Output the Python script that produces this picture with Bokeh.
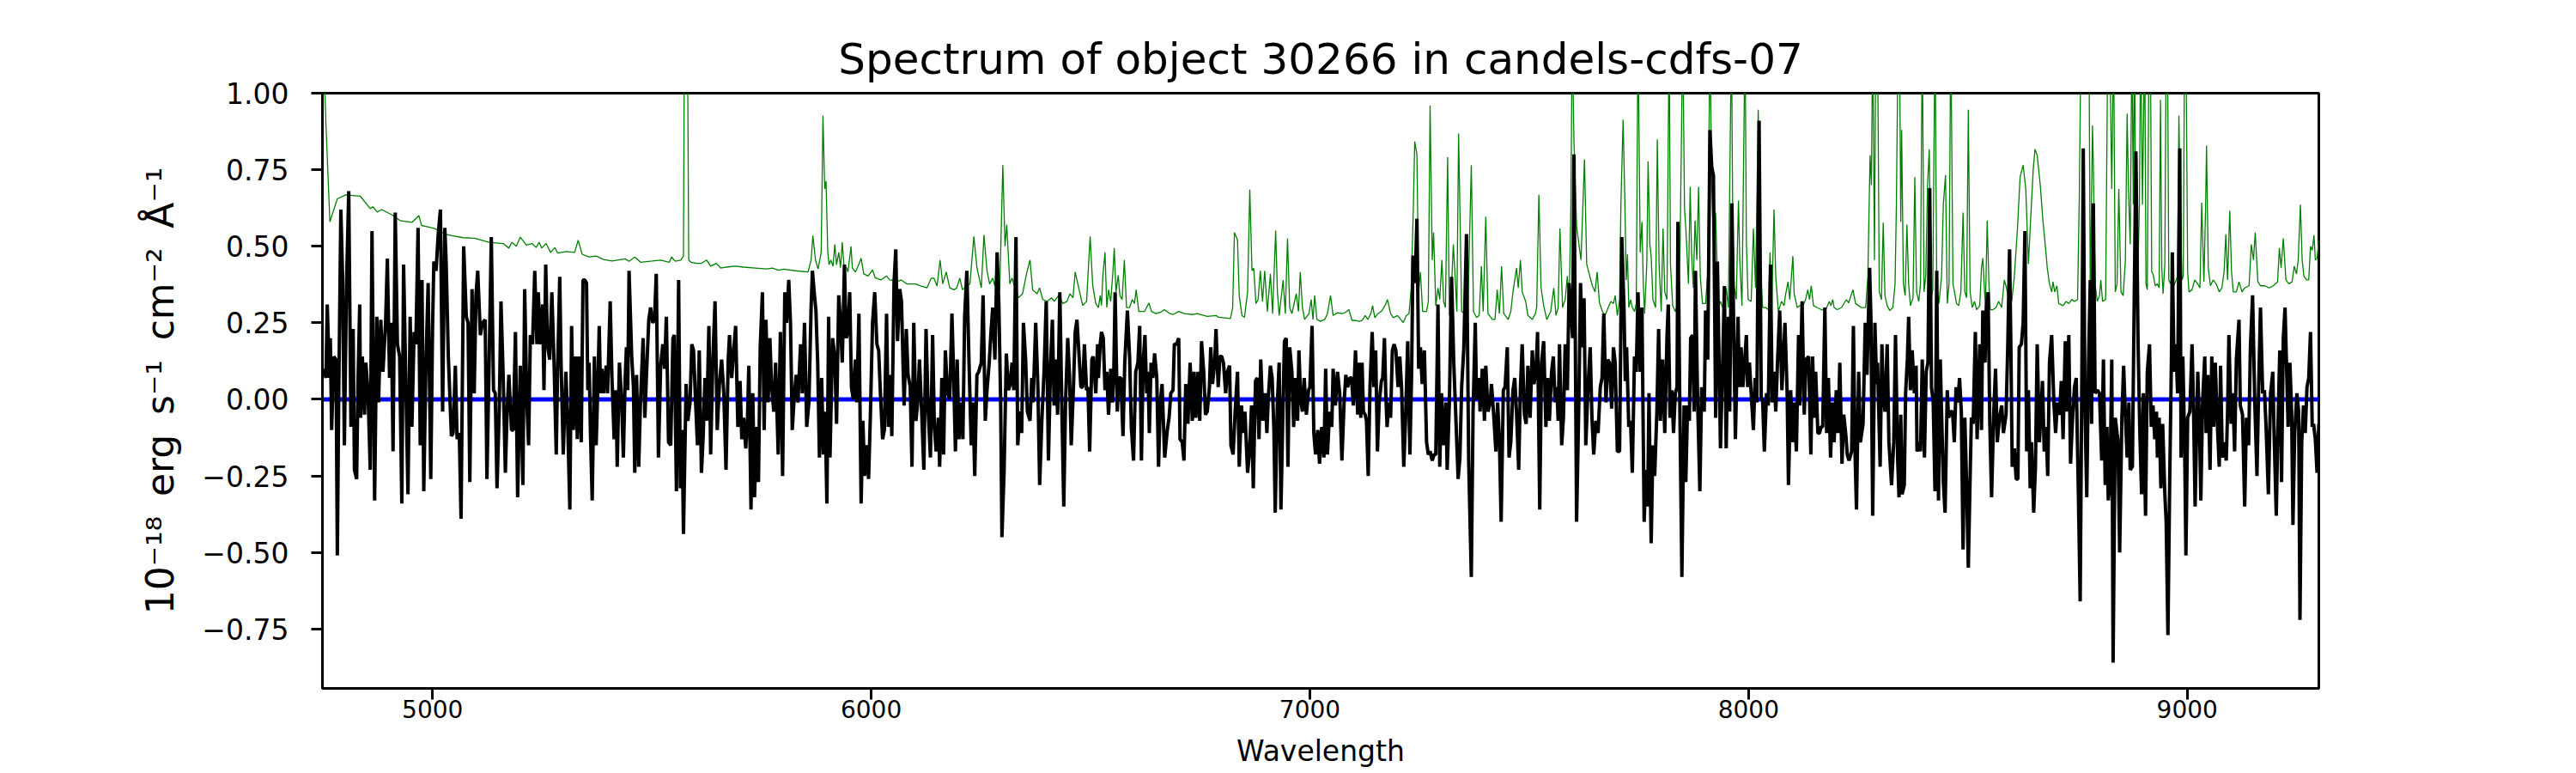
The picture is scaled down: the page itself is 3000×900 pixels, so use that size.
from bokeh.plotting import figure
from bokeh.models import Range1d, FixedTicker, ColumnDataSource
from bokeh.embed import file_html
from bokeh.resources import INLINE

# ---------------- data ----------------
title_text = "Spectrum of object 30266 in candels-cdfs-07"
x_label = "Wavelength"
y_label = "10\u207b\u00b9\u2078\u2009 erg\u2009 s\u207b\u00b9\u2009 cm\u207b\u00b2\u2009 \u00c5\u207b\u00b9"

x_limits = [4749, 9300]
y_limits = [-0.944, 1.0]
x_ticks = [5000, 6000, 7000, 8000, 9000]
x_tick_labels = ["5000", "6000", "7000", "8000", "9000"]
y_ticks = [-0.75, -0.5, -0.25, 0.0, 0.25, 0.5, 0.75, 1.0]
y_tick_labels = ["\u22120.75", "\u22120.50", "\u22120.25", "0.00", "0.25", "0.50", "0.75", "1.00"]

# continuum model (flat at zero)
model_wave = [4749, 9300]
model_flux = [0.0, 0.0]

# object spectrum: (wavelength, flux)
object_spectrum = [
    (4752, 0.10), (4757, 0.07), (4760, 0.31), (4765, 0.07), (4767, 0.20), (4770, -0.10), (4775, 0.14), (4780, 0.13),
    (4783, -0.51), (4786, -0.01), (4791, 0.62), (4795, 0.40), (4799, -0.15), (4804, 0.38), (4809, 0.68), (4814, -0.09),
    (4819, 0.23), (4822, -0.23), (4827, -0.26), (4830, 0.05), (4834, 0.31), (4836, -0.06), (4840, 0.14), (4845, -0.05),
    (4848, 0.12), (4853, 0.02), (4858, -0.23), (4862, 0.55), (4868, -0.33), (4873, 0.27), (4877, -0.01), (4882, 0.26),
    (4887, 0.09), (4893, 0.25), (4897, 0.46), (4902, 0.07), (4906, 0.25), (4910, -0.17), (4915, 0.61), (4920, 0.18),
    (4925, 0.14), (4930, -0.34), (4934, 0.44), (4940, -0.01), (4944, -0.31), (4949, 0.27), (4953, -0.09), (4958, 0.22),
    (4962, 0.18), (4967, 0.56), (4972, -0.15), (4976, 0.39), (4980, -0.30), (4985, 0.12), (4990, 0.38), (4996, -0.26),
    (5000, 0.23), (5003, 0.45), (5008, 0.42), (5013, 0.54), (5018, 0.62), (5023, -0.04), (5028, 0.56), (5031, 0.45),
    (5036, 0.14), (5043, -0.12), (5047, -0.11), (5052, 0.11), (5056, -0.13), (5061, -0.11), (5065, -0.39), (5071, 0.50),
    (5077, 0.27), (5081, 0.25), (5085, -0.27), (5090, 0.36), (5095, 0.02), (5099, 0.34), (5103, 0.42), (5109, 0.21),
    (5114, 0.25), (5120, 0.26), (5124, -0.26), (5129, 0.12), (5134, 0.53), (5139, 0.03), (5143, 0.02), (5147, -0.29),
    (5152, -0.04), (5156, 0.32), (5161, 0.08), (5166, -0.24), (5170, -0.04), (5174, 0.08), (5180, -0.10), (5184, -0.10),
    (5189, 0.22), (5194, -0.32), (5200, 0.11), (5206, -0.28), (5210, 0.36), (5215, -0.01), (5219, -0.15), (5223, 0.21),
    (5228, 0.18), (5233, 0.42), (5238, 0.18), (5241, 0.35), (5246, 0.18), (5251, 0.31), (5254, 0.03), (5258, 0.44),
    (5262, 0.18), (5267, 0.13), (5272, 0.35), (5277, 0.12), (5282, -0.18), (5285, 0.09), (5290, 0.40), (5293, 0.12),
    (5298, -0.18), (5304, 0.09), (5308, -0.07), (5313, -0.36), (5317, 0.24), (5321, -0.10), (5326, 0.14), (5330, -0.13),
    (5334, 0.14), (5339, -0.14), (5343, 0.39), (5347, 0.39), (5351, 0.38), (5354, 0.03), (5357, 0.12), (5360, -0.11),
    (5364, -0.33), (5369, 0.14), (5373, -0.15), (5377, 0.05), (5380, 0.24), (5383, 0.02), (5386, 0.10), (5390, 0.02),
    (5393, 0.07), (5396, 0.11), (5399, 0.02), (5405, 0.32), (5409, 0.07), (5414, -0.13), (5418, 0.03), (5421, -0.22),
    (5426, 0.12), (5431, 0.00), (5435, -0.19), (5439, 0.06), (5442, 0.17), (5445, 0.03), (5448, 0.42), (5454, 0.14),
    (5458, 0.04), (5461, -0.24), (5465, 0.08), (5470, -0.22), (5474, -0.01), (5480, 0.20), (5484, -0.06), (5488, 0.09),
    (5493, 0.26), (5497, 0.30), (5502, 0.25), (5506, 0.26), (5510, 0.41), (5515, -0.19), (5520, 0.11), (5525, 0.18),
    (5529, 0.10), (5533, 0.27), (5538, -0.14), (5543, -0.15), (5548, 0.20), (5551, 0.21), (5556, -0.30), (5561, 0.39),
    (5565, -0.29), (5569, -0.10), (5572, -0.44), (5578, 0.05), (5582, -0.07), (5587, -0.01), (5591, 0.18), (5595, 0.16),
    (5600, -0.02), (5604, -0.15), (5608, 0.16), (5613, -0.24), (5617, -0.12), (5621, 0.07), (5625, -0.07), (5630, 0.24),
    (5634, -0.18), (5639, 0.13), (5644, 0.32), (5649, -0.10), (5654, 0.05), (5659, 0.13), (5664, 0.02), (5669, -0.23),
    (5674, 0.13), (5677, 0.21), (5682, 0.07), (5687, 0.17), (5691, 0.24), (5696, -0.09), (5701, 0.06), (5705, -0.13),
    (5709, -0.06), (5714, -0.16), (5718, -0.06), (5721, 0.11), (5726, -0.36), (5730, 0.02), (5734, -0.32), (5739, -0.09),
    (5743, -0.27), (5747, 0.17), (5752, 0.35), (5756, -0.10), (5760, 0.26), (5765, -0.01), (5769, 0.20), (5773, 0.04),
    (5778, -0.04), (5782, 0.12), (5788, -0.18), (5793, 0.22), (5798, -0.25), (5803, 0.35), (5807, 0.25), (5812, 0.39),
    (5816, 0.25), (5820, -0.10), (5825, 0.02), (5829, 0.08), (5833, -0.01), (5839, 0.18), (5843, 0.02), (5848, 0.25),
    (5853, -0.09), (5858, -0.01), (5863, 0.30), (5866, 0.42), (5870, 0.35), (5874, 0.29), (5878, 0.12), (5882, -0.19),
    (5887, 0.07), (5891, -0.18), (5895, -0.04), (5899, -0.34), (5903, 0.27), (5906, -0.19), (5912, 0.20), (5917, 0.14),
    (5921, -0.08), (5926, 0.34), (5930, 0.25), (5934, 0.12), (5939, 0.44), (5943, 0.20), (5947, 0.22), (5951, 0.35),
    (5955, 0.04), (5959, 0.00), (5964, 0.13), (5967, -0.01), (5972, 0.28), (5977, -0.34), (5981, -0.07), (5985, -0.25),
    (5990, -0.15), (5994, -0.26), (5998, -0.06), (6003, 0.25), (6008, 0.35), (6013, 0.18), (6017, 0.16), (6021, 0.02),
    (6026, -0.13), (6030, -0.10), (6035, 0.28), (6039, -0.09), (6043, 0.08), (6047, -0.12), (6052, 0.38), (6056, 0.49),
    (6060, 0.19), (6065, 0.36), (6069, 0.32), (6075, -0.02), (6080, 0.23), (6084, 0.08), (6089, 0.04), (6093, -0.22),
    (6097, 0.25), (6102, -0.07), (6106, -0.01), (6110, 0.13), (6115, -0.04), (6120, -0.23), (6125, 0.23), (6130, -0.04),
    (6135, -0.19), (6140, 0.21), (6144, -0.09), (6148, -0.17), (6153, -0.06), (6156, -0.22), (6161, 0.07), (6165, -0.18),
    (6169, 0.16), (6174, 0.02), (6179, 0.00), (6184, 0.28), (6187, 0.13), (6192, -0.17), (6196, 0.13), (6200, -0.13),
    (6205, -0.01), (6209, -0.13), (6213, 0.27), (6218, 0.42), (6223, 0.12), (6228, -0.15), (6232, -0.01), (6236, -0.25),
    (6241, 0.08), (6245, 0.09), (6251, 0.12), (6255, 0.34), (6260, -0.07), (6264, 0.03), (6269, 0.12), (6273, 0.22),
    (6277, 0.30), (6282, 0.13), (6287, 0.48), (6291, 0.31), (6295, 0.00), (6298, -0.45), (6303, -0.23), (6308, 0.15),
    (6313, 0.03), (6317, 0.05), (6321, 0.12), (6325, 0.03), (6330, 0.53), (6334, -0.15), (6339, -0.04), (6343, -0.11),
    (6347, 0.25), (6352, 0.13), (6356, -0.04), (6362, -0.07), (6366, 0.07), (6369, -0.01), (6375, 0.25), (6380, 0.04),
    (6384, -0.28), (6389, -0.07), (6394, 0.09), (6399, 0.32), (6404, -0.20), (6409, 0.12), (6413, 0.26), (6417, -0.02),
    (6420, 0.13), (6425, -0.05), (6430, 0.35), (6435, -0.06), (6439, -0.35), (6443, -0.01), (6448, 0.20), (6452, 0.08),
    (6456, -0.15), (6461, 0.04), (6465, 0.22), (6469, 0.26), (6474, 0.14), (6478, 0.04), (6482, 0.04), (6486, 0.18),
    (6491, 0.03), (6494, 0.04), (6498, -0.17), (6503, 0.13), (6506, 0.14), (6512, 0.02), (6516, 0.18), (6518, 0.07),
    (6522, 0.18), (6525, 0.22), (6529, 0.20), (6533, 0.03), (6537, 0.09), (6541, -0.05), (6546, 0.10), (6550, -0.01),
    (6553, 0.09), (6556, 0.35), (6561, -0.04), (6564, 0.07), (6569, 0.07), (6574, -0.12), (6578, 0.12), (6584, 0.29),
    (6589, 0.14), (6593, -0.09), (6598, -0.20), (6603, 0.09), (6608, 0.12), (6612, 0.24), (6616, -0.20), (6620, 0.12),
    (6624, 0.21), (6628, 0.02), (6631, 0.09), (6634, -0.11), (6638, 0.12), (6642, 0.07), (6646, 0.15), (6651, 0.07),
    (6655, -0.22), (6659, -0.01), (6663, 0.05), (6669, -0.19), (6675, -0.10), (6679, -0.06), (6683, 0.02), (6688, 0.03),
    (6691, 0.18), (6696, 0.18), (6701, 0.20), (6704, -0.13), (6709, -0.14), (6713, -0.20), (6717, 0.05), (6722, -0.08),
    (6727, 0.12), (6732, -0.07), (6736, 0.09), (6740, -0.06), (6745, 0.09), (6749, -0.07), (6753, 0.19), (6758, 0.09),
    (6762, -0.05), (6766, -0.04), (6771, 0.04), (6774, 0.17), (6778, 0.05), (6783, 0.12), (6786, 0.23), (6791, 0.04),
    (6795, 0.14), (6799, 0.14), (6803, 0.12), (6808, 0.02), (6812, 0.09), (6817, 0.11), (6820, -0.15), (6825, -0.18),
    (6830, -0.03), (6835, 0.09), (6839, -0.22), (6844, -0.02), (6848, -0.11), (6852, -0.04), (6858, -0.24), (6862, -0.18),
    (6867, -0.02), (6871, -0.29), (6876, 0.06), (6880, 0.07), (6884, -0.13), (6888, 0.13), (6893, -0.07), (6898, 0.02),
    (6902, -0.11), (6905, 0.00), (6910, 0.11), (6914, 0.07), (6918, -0.10), (6921, -0.37), (6926, -0.01), (6930, 0.12),
    (6934, -0.36), (6939, -0.01), (6942, 0.19), (6946, 0.20), (6950, -0.22), (6954, 0.17), (6959, 0.09), (6963, -0.09),
    (6967, 0.07), (6972, -0.07), (6975, 0.16), (6979, 0.00), (6983, -0.04), (6987, 0.07), (6992, -0.05), (6997, 0.03),
    (7000, 0.04), (7005, 0.24), (7009, -0.11), (7013, -0.18), (7018, -0.10), (7022, -0.21), (7027, -0.09), (7032, -0.19),
    (7036, 0.10), (7040, -0.18), (7045, -0.04), (7050, -0.09), (7053, 0.10), (7058, -0.02), (7063, 0.09), (7068, 0.02),
    (7073, -0.20), (7078, -0.01), (7082, 0.08), (7086, 0.04), (7091, 0.07), (7095, 0.07), (7099, -0.02), (7104, 0.16),
    (7109, -0.05), (7112, 0.12), (7116, -0.06), (7119, 0.12), (7122, -0.04), (7126, -0.05), (7129, -0.07), (7133, -0.25),
    (7137, 0.04), (7142, 0.22), (7146, 0.04), (7150, 0.16), (7154, -0.17), (7158, -0.01), (7163, 0.06), (7166, 0.07),
    (7170, 0.20), (7173, 0.02), (7176, -0.09), (7180, -0.01), (7184, -0.06), (7188, 0.16), (7192, 0.18), (7196, 0.16),
    (7201, 0.04), (7205, 0.14), (7209, 0.04), (7214, -0.22), (7218, -0.07), (7223, 0.19), (7228, -0.18), (7232, 0.09),
    (7235, 0.47), (7240, 0.38), (7244, 0.59), (7248, 0.10), (7252, 0.17), (7256, 0.05), (7261, 0.16), (7266, -0.14),
    (7270, -0.18), (7274, -0.17), (7279, -0.20), (7283, -0.18), (7287, -0.18), (7292, 0.31), (7296, -0.22), (7300, 0.02),
    (7305, -0.15), (7310, -0.01), (7313, -0.23), (7318, -0.01), (7323, 0.40), (7328, 0.12), (7333, -0.07), (7338, -0.26),
    (7342, -0.19), (7346, 0.04), (7351, 0.17), (7357, 0.54), (7362, -0.20), (7368, -0.58), (7372, -0.04), (7377, 0.25),
    (7380, 0.00), (7385, 0.07), (7388, -0.04), (7393, 0.10), (7398, -0.07), (7401, 0.11), (7406, -0.04), (7411, -0.01),
    (7414, 0.05), (7419, -0.05), (7424, -0.17), (7428, -0.01), (7432, -0.13), (7436, -0.40), (7441, 0.03), (7445, 0.04),
    (7450, 0.17), (7454, -0.19), (7458, -0.14), (7463, 0.03), (7467, 0.07), (7471, -0.04), (7476, -0.23), (7480, 0.04),
    (7484, 0.18), (7489, -0.05), (7493, -0.08), (7497, 0.11), (7502, -0.06), (7507, 0.16), (7511, 0.05), (7516, 0.11),
    (7519, 0.22), (7524, -0.36), (7528, 0.12), (7533, 0.19), (7538, -0.09), (7542, 0.07), (7546, -0.07), (7551, 0.09),
    (7555, 0.14), (7559, -0.01), (7563, 0.04), (7566, -0.07), (7569, 0.18), (7574, -0.15), (7578, -0.06), (7582, 0.18),
    (7587, 0.03), (7591, 0.38), (7594, 0.31), (7599, 0.20), (7602, 0.80), (7605, 0.21), (7608, -0.40), (7613, -0.02),
    (7617, 0.38), (7621, 0.17), (7625, 0.33), (7629, -0.15), (7634, 0.04), (7639, 0.17), (7643, -0.06), (7647, -0.18),
    (7652, -0.07), (7657, -0.11), (7662, 0.04), (7666, 0.07), (7670, 0.28), (7675, -0.01), (7679, 0.13), (7683, 0.12),
    (7688, -0.03), (7692, 0.17), (7696, 0.12), (7701, -0.17), (7706, -0.17), (7711, 0.53), (7716, 0.30), (7719, 0.06),
    (7722, 0.17), (7727, -0.09), (7731, -0.07), (7735, -0.24), (7740, 0.14), (7744, 0.09), (7748, 0.35), (7753, 0.09),
    (7757, 0.30), (7762, -0.40), (7766, -0.23), (7770, -0.35), (7773, 0.02), (7778, -0.47), (7782, -0.15), (7786, -0.25),
    (7791, -0.04), (7795, 0.23), (7799, -0.07), (7804, 0.13), (7809, -0.11), (7814, 0.20), (7817, 0.31), (7821, -0.06),
    (7825, 0.03), (7829, -0.11), (7833, 0.02), (7837, 0.04), (7839, 0.58), (7843, 0.02), (7848, -0.58), (7853, -0.02),
    (7857, -0.27), (7861, -0.02), (7865, -0.07), (7868, 0.20), (7872, 0.21), (7876, -0.04), (7879, 0.42), (7884, -0.01),
    (7889, -0.30), (7893, 0.04), (7899, -0.04), (7902, 0.29), (7907, 0.13), (7912, 0.88), (7916, 0.76), (7920, 0.73),
    (7925, -0.06), (7929, 0.45), (7933, 0.11), (7936, -0.16), (7941, 0.12), (7945, 0.37), (7949, -0.16), (7954, 0.27),
    (7957, -0.04), (7962, 0.64), (7966, 0.25), (7970, -0.13), (7976, 0.27), (7979, 0.04), (7983, 0.17), (7987, 0.04),
    (7991, 0.12), (7995, 0.21), (7998, 0.04), (8002, 0.12), (8006, 0.02), (8011, -0.10), (8015, 0.07), (8019, -0.01),
    (8024, 0.91), (8029, 0.00), (8032, 0.00), (8036, -0.17), (8041, 0.02), (8045, -0.02), (8050, 0.44), (8054, -0.01),
    (8058, 0.09), (8062, -0.04), (8066, 0.12), (8071, 0.29), (8076, 0.03), (8079, 0.12), (8083, 0.25), (8088, 0.02),
    (8091, -0.28), (8096, 0.03), (8100, -0.14), (8104, -0.01), (8109, -0.17), (8114, 0.21), (8117, -0.02), (8122, 0.32),
    (8127, -0.05), (8131, 0.13), (8137, 0.14), (8142, -0.18), (8146, 0.14), (8150, -0.06), (8153, 0.09), (8158, -0.11),
    (8162, -0.11), (8165, -0.09), (8169, -0.09), (8174, 0.30), (8178, -0.11), (8182, 0.07), (8187, -0.19), (8191, -0.01),
    (8195, -0.14), (8200, 0.03), (8204, -0.11), (8208, 0.12), (8213, -0.21), (8217, -0.05), (8222, -0.12), (8225, -0.18),
    (8229, -0.20), (8235, -0.17), (8239, 0.24), (8243, -0.19), (8246, -0.36), (8251, 0.09), (8255, -0.14), (8261, -0.08),
    (8266, 0.25), (8270, 0.08), (8276, 0.43), (8279, 0.26), (8283, -0.38), (8288, 0.25), (8292, 0.05), (8294, 0.12),
    (8300, -0.22), (8304, 0.18), (8307, 0.02), (8311, -0.04), (8316, 0.18), (8320, -0.14), (8326, -0.28), (8331, -0.14),
    (8335, 0.21), (8340, -0.20), (8343, -0.32), (8347, -0.05), (8350, -0.31), (8355, -0.28), (8358, 0.02), (8362, 0.13),
    (8365, 0.27), (8369, 0.03), (8373, 0.16), (8378, 0.02), (8382, 0.11), (8384, -0.17), (8390, -0.14), (8392, -0.17),
    (8396, 0.13), (8401, -0.19), (8405, 0.09), (8409, 0.12), (8413, 0.69), (8417, 0.04), (8421, -0.01), (8425, -0.30),
    (8429, 0.42), (8433, -0.33), (8437, 0.13), (8441, -0.10), (8444, -0.27), (8448, -0.37), (8453, 0.03), (8456, -0.06),
    (8461, -0.04), (8465, -0.04), (8469, -0.14), (8473, 0.04), (8477, -0.01), (8481, 0.07), (8485, -0.04), (8489, -0.49),
    (8493, -0.06), (8497, -0.27), (8501, -0.55), (8505, -0.26), (8508, -0.06), (8512, -0.08), (8517, 0.22), (8521, -0.13),
    (8527, 0.18), (8531, -0.10), (8534, 0.29), (8539, 0.12), (8542, 0.30), (8546, 0.35), (8550, -0.08), (8554, -0.32),
    (8559, -0.04), (8563, 0.10), (8567, -0.14), (8572, -0.06), (8577, -0.02), (8581, -0.11), (8587, -0.05), (8591, 0.18),
    (8595, 0.49), (8598, 0.17), (8601, -0.22), (8606, -0.16), (8610, -0.26), (8614, -0.26), (8617, 0.17), (8622, 0.18),
    (8626, 0.25), (8630, 0.55), (8634, -0.17), (8638, 0.03), (8642, -0.29), (8645, -0.14), (8650, -0.37), (8654, -0.22),
    (8658, 0.18), (8663, -0.14), (8666, -0.06), (8670, 0.06), (8674, -0.17), (8678, -0.09), (8682, -0.25), (8686, 0.12),
    (8691, 0.21), (8696, -0.01), (8700, -0.11), (8704, -0.01), (8709, -0.05), (8713, 0.06), (8717, -0.13), (8722, 0.19),
    (8726, -0.04), (8730, 0.21), (8734, -0.21), (8739, -0.05), (8743, 0.04), (8747, 0.07), (8752, -0.32), (8756, -0.66),
    (8760, 0.12), (8763, 0.82), (8767, -0.04), (8771, -0.32), (8775, 0.12), (8779, 0.39), (8782, -0.08), (8786, 0.64),
    (8790, 0.02), (8795, 0.03), (8800, 0.02), (8805, -0.20), (8809, 0.13), (8813, -0.28), (8817, -0.09), (8820, -0.33),
    (8824, -0.27), (8828, 0.13), (8831, -0.86), (8836, -0.06), (8840, -0.11), (8842, -0.13), (8846, -0.50), (8851, -0.06),
    (8855, 0.11), (8859, -0.05), (8863, -0.19), (8867, -0.01), (8870, -0.23), (8875, -0.22), (8879, 0.30), (8883, 0.81),
    (8888, 0.18), (8892, -0.11), (8896, -0.31), (8900, 0.02), (8905, -0.38), (8909, 0.09), (8914, 0.18), (8918, -0.09),
    (8922, -0.02), (8926, -0.13), (8930, -0.04), (8932, -0.19), (8936, -0.06), (8940, -0.29), (8944, -0.08), (8949, -0.31),
    (8952, -0.40), (8956, -0.77), (8960, -0.27), (8964, 0.13), (8966, 0.48), (8970, 0.09), (8974, 0.18), (8978, 0.02),
    (8983, 0.82), (8986, -0.19), (8990, 0.14), (8994, -0.14), (8997, -0.51), (9001, -0.06), (9006, -0.04), (9011, 0.18),
    (9014, 0.00), (9018, -0.35), (9024, 0.09), (9028, -0.08), (9031, -0.33), (9035, -0.01), (9040, 0.14), (9043, -0.11),
    (9047, 0.08), (9052, -0.23), (9056, 0.14), (9060, -0.09), (9064, 0.12), (9068, -0.06), (9073, -0.22), (9076, 0.11),
    (9080, -0.19), (9084, -0.14), (9089, -0.20), (9092, -0.04), (9095, 0.21), (9100, -0.08), (9104, 0.02), (9108, -0.17),
    (9112, 0.13), (9118, 0.26), (9121, -0.02), (9126, -0.05), (9131, -0.35), (9135, -0.06), (9140, -0.15), (9144, 0.17),
    (9149, 0.34), (9154, -0.01), (9159, -0.25), (9163, 0.05), (9167, 0.30), (9172, 0.02), (9176, 0.03), (9180, -0.10),
    (9185, -0.31), (9190, 0.02), (9195, 0.09), (9198, -0.11), (9203, -0.38), (9206, -0.14), (9211, 0.16), (9215, -0.27),
    (9219, 0.20), (9223, 0.30), (9226, 0.13), (9230, -0.09), (9234, 0.12), (9238, -0.04), (9241, -0.41), (9245, -0.11),
    (9250, 0.02), (9254, -0.04), (9257, -0.72), (9261, -0.14), (9265, -0.02), (9269, -0.11), (9273, 0.04), (9277, 0.07),
    (9281, 0.22), (9285, -0.09), (9288, -0.08), (9292, -0.13), (9296, -0.24), (9300, -0.08),
]

# sky / noise spectrum: (wavelength, flux)
sky_spectrum = [
    (4750, 1.20), (4757, 0.90), (4766, 0.58), (4783, 0.655), (4802, 0.668), (4835, 0.664), (4858, 0.623), (4864, 0.629),
    (4874, 0.612), (4884, 0.620), (4907, 0.603), (4926, 0.584), (4953, 0.578), (4969, 0.600), (4975, 0.568), (4985, 0.565),
    (5005, 0.558), (5031, 0.539), (5044, 0.535), (5070, 0.528), (5096, 0.526), (5129, 0.513), (5161, 0.509), (5174, 0.494),
    (5181, 0.513), (5191, 0.500), (5200, 0.530), (5214, 0.504), (5227, 0.509), (5236, 0.496), (5243, 0.513), (5249, 0.494),
    (5259, 0.509), (5269, 0.480), (5279, 0.496), (5285, 0.478), (5305, 0.483), (5324, 0.480), (5332, 0.520), (5341, 0.474),
    (5357, 0.465), (5373, 0.468), (5390, 0.457), (5409, 0.452), (5439, 0.459), (5448, 0.451), (5461, 0.465), (5474, 0.448),
    (5501, 0.452), (5520, 0.455), (5540, 0.448), (5545, 0.465), (5553, 0.451), (5566, 0.455), (5572, 0.468), (5575, 1.50),
    (5580, 1.50), (5584, 0.455), (5589, 0.448), (5602, 0.444), (5612, 0.444), (5625, 0.455), (5634, 0.435), (5647, 0.444),
    (5657, 0.429), (5670, 0.432), (5690, 0.435), (5709, 0.432), (5736, 0.429), (5762, 0.426), (5775, 0.429), (5788, 0.422),
    (5801, 0.425), (5827, 0.420), (5856, 0.416), (5863, 0.455), (5867, 0.535), (5873, 0.455), (5879, 0.426), (5886, 0.480),
    (5890, 0.926), (5894, 0.687), (5897, 0.713), (5901, 0.480), (5904, 0.440), (5908, 0.455), (5913, 0.435), (5917, 0.506),
    (5921, 0.440), (5926, 0.480), (5930, 0.430), (5934, 0.513), (5938, 0.435), (5944, 0.429), (5947, 0.416), (5954, 0.500),
    (5957, 0.429), (5964, 0.416), (5970, 0.435), (5977, 0.461), (5983, 0.410), (5993, 0.403), (6003, 0.423), (6009, 0.397),
    (6022, 0.390), (6035, 0.403), (6042, 0.390), (6062, 0.386), (6068, 0.390), (6081, 0.377), (6101, 0.377), (6114, 0.370),
    (6127, 0.364), (6137, 0.396), (6143, 0.396), (6150, 0.370), (6157, 0.455), (6163, 0.377), (6171, 0.416), (6179, 0.364),
    (6189, 0.358), (6195, 0.364), (6202, 0.396), (6208, 0.358), (6218, 0.370), (6225, 0.377), (6234, 0.532), (6241, 0.430),
    (6251, 0.364), (6257, 0.537), (6264, 0.420), (6270, 0.377), (6277, 0.396), (6282, 0.370), (6287, 0.480), (6293, 0.358),
    (6300, 0.765), (6305, 0.500), (6309, 0.571), (6316, 0.377), (6321, 0.396), (6328, 0.364), (6336, 0.332), (6345, 0.345),
    (6355, 0.416), (6362, 0.455), (6368, 0.358), (6378, 0.345), (6384, 0.364), (6391, 0.326), (6401, 0.320), (6411, 0.332),
    (6417, 0.320), (6427, 0.339), (6437, 0.313), (6446, 0.320), (6453, 0.345), (6460, 0.332), (6465, 0.416), (6473, 0.364),
    (6482, 0.307), (6491, 0.320), (6499, 0.532), (6505, 0.371), (6512, 0.313), (6518, 0.300), (6522, 0.339), (6525, 0.307),
    (6528, 0.403), (6533, 0.480), (6537, 0.300), (6541, 0.358), (6546, 0.320), (6551, 0.416), (6554, 0.494), (6558, 0.351),
    (6563, 0.405), (6567, 0.339), (6572, 0.326), (6577, 0.455), (6582, 0.300), (6589, 0.300), (6595, 0.326), (6600, 0.313),
    (6604, 0.358), (6610, 0.287), (6623, 0.287), (6633, 0.315), (6639, 0.287), (6649, 0.280), (6659, 0.284), (6668, 0.293),
    (6681, 0.280), (6688, 0.277), (6701, 0.287), (6714, 0.280), (6734, 0.277), (6743, 0.280), (6766, 0.271), (6786, 0.274),
    (6792, 0.268), (6819, 0.264), (6824, 0.300), (6828, 0.545), (6835, 0.520), (6839, 0.339), (6845, 0.274), (6851, 0.268),
    (6858, 0.351), (6863, 0.685), (6868, 0.420), (6872, 0.429), (6877, 0.313), (6882, 0.326), (6887, 0.420), (6892, 0.320),
    (6897, 0.420), (6903, 0.287), (6910, 0.410), (6915, 0.280), (6922, 0.551), (6926, 0.351), (6930, 0.274), (6939, 0.390),
    (6944, 0.280), (6949, 0.526), (6954, 0.300), (6959, 0.280), (6969, 0.345), (6974, 0.287), (6978, 0.416), (6983, 0.300),
    (6988, 0.261), (6998, 0.280), (7003, 0.326), (7007, 0.261), (7011, 0.339), (7016, 0.261), (7024, 0.255), (7034, 0.261),
    (7040, 0.280), (7047, 0.339), (7053, 0.274), (7063, 0.283), (7073, 0.280), (7081, 0.284), (7089, 0.293), (7096, 0.258),
    (7104, 0.258), (7112, 0.255), (7119, 0.258), (7126, 0.274), (7132, 0.261), (7139, 0.280), (7143, 0.306), (7148, 0.267),
    (7155, 0.280), (7164, 0.289), (7171, 0.306), (7177, 0.326), (7184, 0.280), (7190, 0.267), (7200, 0.274), (7207, 0.261),
    (7213, 0.251), (7220, 0.274), (7226, 0.280), (7231, 0.364), (7236, 0.633), (7239, 0.842), (7244, 0.800), (7248, 0.351),
    (7252, 0.416), (7257, 0.287), (7266, 0.287), (7270, 0.320), (7274, 0.959), (7279, 0.455), (7282, 0.545), (7287, 0.306),
    (7292, 0.364), (7296, 0.326), (7301, 0.455), (7305, 0.319), (7309, 0.300), (7314, 0.791), (7318, 0.274), (7322, 0.339),
    (7327, 0.506), (7331, 0.403), (7335, 0.287), (7339, 0.868), (7346, 0.287), (7354, 0.280), (7360, 0.287), (7368, 0.765),
    (7373, 0.287), (7380, 0.267), (7386, 0.274), (7391, 0.435), (7395, 0.287), (7401, 0.597), (7406, 0.280), (7416, 0.261),
    (7422, 0.261), (7427, 0.358), (7432, 0.280), (7437, 0.435), (7442, 0.280), (7452, 0.261), (7458, 0.287), (7463, 0.351),
    (7471, 0.429), (7475, 0.364), (7480, 0.455), (7484, 0.351), (7492, 0.320), (7497, 0.274), (7507, 0.261), (7514, 0.280),
    (7517, 0.300), (7522, 0.668), (7527, 0.364), (7533, 0.306), (7540, 0.261), (7549, 0.287), (7556, 0.364), (7561, 0.274),
    (7566, 0.300), (7570, 0.558), (7576, 0.300), (7582, 0.326), (7587, 0.403), (7591, 0.300), (7595, 0.636), (7598, 1.20),
    (7602, 0.842), (7608, 0.565), (7618, 0.455), (7626, 0.784), (7631, 0.442), (7638, 0.403), (7644, 0.371), (7650, 0.351),
    (7655, 0.416), (7660, 0.316), (7667, 0.287), (7673, 0.274), (7680, 0.300), (7686, 0.320), (7692, 0.313), (7696, 0.339),
    (7701, 0.274), (7706, 0.326), (7709, 0.636), (7714, 0.913), (7718, 0.649), (7721, 0.390), (7724, 0.474), (7727, 0.300),
    (7731, 0.326), (7735, 0.300), (7740, 0.287), (7744, 0.313), (7748, 1.20), (7753, 0.480), (7757, 0.580), (7760, 0.377),
    (7763, 0.280), (7768, 0.442), (7771, 0.778), (7775, 0.506), (7778, 0.468), (7782, 0.326), (7788, 0.300), (7792, 0.849),
    (7796, 0.442), (7801, 0.287), (7805, 0.558), (7809, 0.351), (7814, 0.326), (7819, 1.20), (7822, 0.442), (7827, 0.306),
    (7833, 0.287), (7840, 0.320), (7844, 0.506), (7850, 1.20), (7854, 0.623), (7857, 0.558), (7863, 0.377), (7867, 0.694),
    (7870, 0.480), (7874, 0.364), (7878, 0.584), (7882, 0.455), (7886, 0.694), (7890, 0.400), (7895, 0.313), (7902, 0.313),
    (7907, 0.416), (7912, 1.20), (7916, 0.700), (7921, 0.468), (7925, 0.610), (7931, 0.300), (7936, 0.320), (7941, 0.300),
    (7945, 0.313), (7949, 0.364), (7954, 0.300), (7961, 1.20), (7964, 0.571), (7967, 0.371), (7972, 0.326), (7977, 0.649),
    (7980, 0.455), (7985, 0.306), (7992, 1.20), (7995, 0.519), (7999, 0.326), (8006, 0.320), (8011, 0.558), (8016, 0.364),
    (8022, 0.946), (8027, 0.442), (8032, 0.300), (8039, 0.300), (8045, 0.293), (8049, 0.480), (8053, 0.300), (8058, 0.620),
    (8062, 0.400), (8068, 0.287), (8075, 0.320), (8081, 0.306), (8084, 0.339), (8090, 0.384), (8094, 0.326), (8101, 0.468),
    (8104, 0.345), (8111, 0.300), (8117, 0.306), (8124, 0.306), (8130, 0.326), (8135, 0.358), (8139, 0.326), (8143, 0.371),
    (8148, 0.306), (8156, 0.300), (8166, 0.293), (8176, 0.293), (8184, 0.320), (8188, 0.306), (8192, 0.326), (8195, 0.300),
    (8202, 0.293), (8212, 0.300), (8223, 0.326), (8228, 0.315), (8238, 0.358), (8244, 0.313), (8251, 0.306), (8257, 0.300),
    (8267, 0.300), (8272, 0.403), (8277, 0.797), (8280, 0.700), (8283, 1.20), (8287, 0.455), (8290, 1.20), (8294, 1.20),
    (8298, 0.351), (8303, 0.326), (8307, 0.577), (8311, 0.339), (8316, 0.306), (8322, 0.290), (8329, 0.300), (8334, 0.377),
    (8337, 0.636), (8341, 1.20), (8344, 1.20), (8347, 0.580), (8349, 0.880), (8353, 0.377), (8357, 0.339), (8361, 0.571),
    (8365, 0.377), (8369, 0.306), (8375, 0.332), (8379, 0.726), (8383, 0.351), (8388, 0.320), (8392, 0.377), (8396, 1.20),
    (8400, 0.351), (8404, 0.403), (8408, 0.700), (8412, 0.817), (8416, 0.320), (8420, 0.360), (8425, 1.20), (8429, 0.377),
    (8434, 0.313), (8440, 0.403), (8444, 0.636), (8449, 0.733), (8453, 0.313), (8457, 0.377), (8461, 1.20), (8466, 0.377),
    (8471, 0.339), (8474, 0.313), (8479, 0.306), (8484, 0.351), (8489, 0.610), (8493, 0.351), (8497, 0.332), (8501, 0.946),
    (8505, 0.351), (8510, 0.300), (8515, 0.320), (8520, 0.293), (8527, 0.306), (8531, 0.429), (8534, 0.461), (8540, 0.300),
    (8544, 0.584), (8548, 0.377), (8551, 0.293), (8557, 0.293), (8564, 0.300), (8570, 0.320), (8577, 0.300), (8583, 0.390),
    (8588, 0.364), (8593, 0.320), (8600, 0.320), (8606, 0.403), (8613, 0.558), (8619, 0.726), (8626, 0.765), (8632, 0.687),
    (8638, 0.442), (8642, 0.558), (8649, 0.752), (8653, 0.817), (8658, 0.797), (8665, 0.700), (8671, 0.584), (8677, 0.494),
    (8681, 0.429), (8686, 0.377), (8691, 0.351), (8694, 0.384), (8698, 0.351), (8703, 0.371), (8707, 0.313), (8717, 0.306),
    (8724, 0.320), (8730, 0.313), (8737, 0.326), (8743, 0.320), (8750, 0.326), (8754, 0.661), (8758, 1.20), (8763, 1.20),
    (8768, 1.20), (8771, 1.20), (8776, 1.20), (8779, 0.326), (8784, 0.894), (8786, 0.765), (8790, 0.377), (8795, 0.320),
    (8800, 0.339), (8803, 0.390), (8807, 0.320), (8814, 0.326), (8819, 1.20), (8823, 1.20), (8828, 0.687), (8832, 1.20),
    (8836, 0.351), (8840, 0.377), (8844, 0.687), (8849, 0.351), (8854, 0.339), (8859, 0.455), (8863, 0.933), (8866, 0.687),
    (8870, 0.506), (8874, 1.20), (8877, 0.636), (8880, 1.20), (8883, 0.403), (8887, 0.390), (8891, 0.636), (8894, 1.20),
    (8898, 0.636), (8903, 1.20), (8906, 0.377), (8909, 0.358), (8913, 1.20), (8916, 1.20), (8919, 0.416), (8922, 0.410),
    (8927, 0.371), (8932, 0.377), (8936, 0.364), (8939, 0.978), (8942, 0.429), (8945, 0.345), (8949, 0.442), (8952, 1.20),
    (8955, 1.20), (8958, 0.390), (8962, 0.377), (8965, 0.403), (8968, 0.364), (8971, 0.377), (8975, 0.390), (8978, 0.403),
    (8981, 0.926), (8984, 0.636), (8988, 0.390), (8991, 0.403), (8994, 1.20), (8997, 1.20), (9001, 0.416), (9004, 0.351),
    (9011, 0.358), (9017, 0.390), (9024, 0.377), (9029, 0.364), (9033, 0.642), (9038, 0.384), (9042, 0.636), (9044, 0.829),
    (9048, 0.429), (9053, 0.371), (9059, 0.390), (9066, 0.377), (9073, 0.351), (9079, 0.364), (9084, 0.416), (9088, 0.539),
    (9092, 0.390), (9097, 0.616), (9101, 0.416), (9105, 0.351), (9112, 0.351), (9118, 0.384), (9125, 0.351), (9131, 0.364),
    (9141, 0.371), (9146, 0.506), (9151, 0.455), (9155, 0.545), (9161, 0.384), (9167, 0.371), (9177, 0.371), (9187, 0.364),
    (9196, 0.371), (9206, 0.384), (9210, 0.494), (9214, 0.429), (9219, 0.526), (9225, 0.390), (9232, 0.377), (9239, 0.384),
    (9244, 0.435), (9249, 0.410), (9253, 0.455), (9258, 0.636), (9262, 0.455), (9266, 0.403), (9272, 0.390), (9277, 0.390),
    (9281, 0.500), (9285, 0.487), (9289, 0.536), (9292, 0.455), (9296, 0.461), (9300, 0.520),
]

# ---------------- figure ----------------
FONT = "DejaVu Sans"

obj_src = ColumnDataSource(data=dict(
    wave=[w for w, f in object_spectrum], flux=[f for w, f in object_spectrum]))
sky_src = ColumnDataSource(data=dict(
    wave=[w for w, f in sky_spectrum], flux=[f for w, f in sky_spectrum]))
model_src = ColumnDataSource(data=dict(wave=model_wave, flux=model_flux))

p = figure(
    width=2984, height=900,
    output_backend="svg", toolbar_location=None,
    x_range=Range1d(x_limits[0], x_limits[1]),
    y_range=Range1d(y_limits[0], y_limits[1]),
    min_border_left=375, min_border_right=284,
    min_border_top=108, min_border_bottom=99,
    background_fill_color="white", border_fill_color="white",
)

p.title.text = title_text
p.title.align = "center"
p.title.text_font = FONT
p.title.text_font_size = "50px"
p.title.text_font_style = "normal"
p.title.text_color = "black"
p.title.standoff = 22

p.grid.visible = False
p.outline_line_color = "black"
p.outline_line_width = 3
p.outline_line_alpha = 1.0

for ax in (p.xaxis[0], p.yaxis[0]):
    ax.axis_line_color = "black"
    ax.axis_line_width = 3
    ax.major_tick_line_color = "black"
    ax.major_tick_line_width = 3
    ax.major_tick_out = 13
    ax.major_tick_in = 0
    ax.minor_tick_line_color = None
    ax.major_label_text_font = FONT
    ax.major_label_text_color = "black"
    ax.axis_label_text_font = FONT
    ax.axis_label_text_font_style = "normal"
    ax.axis_label_text_color = "black"

xa = p.xaxis[0]
xa.ticker = FixedTicker(ticks=x_ticks)
xa.major_label_overrides = dict(zip(x_ticks, x_tick_labels))
xa.major_label_text_font_size = "28px"
xa.major_label_standoff = 0
xa.axis_label = x_label
xa.axis_label_text_font_size = "33px"
xa.axis_label_standoff = 16

ya = p.yaxis[0]
ya.ticker = FixedTicker(ticks=y_ticks)
ya.major_label_overrides = dict(zip(y_ticks, y_tick_labels))
ya.major_label_text_font_size = "33px"
ya.major_label_standoff = 26
ya.axis_label = y_label
ya.axis_label_text_font_size = "44px"
ya.axis_label_standoff = 20

p.line("wave", "flux", source=model_src, line_color="#0000ff", line_width=5)
p.line("wave", "flux", source=sky_src, line_color="#008000", line_width=1.3)
p.line("wave", "flux", source=obj_src, line_color="#000000", line_width=4)

open("out.html", "w").write(file_html(p, INLINE))
